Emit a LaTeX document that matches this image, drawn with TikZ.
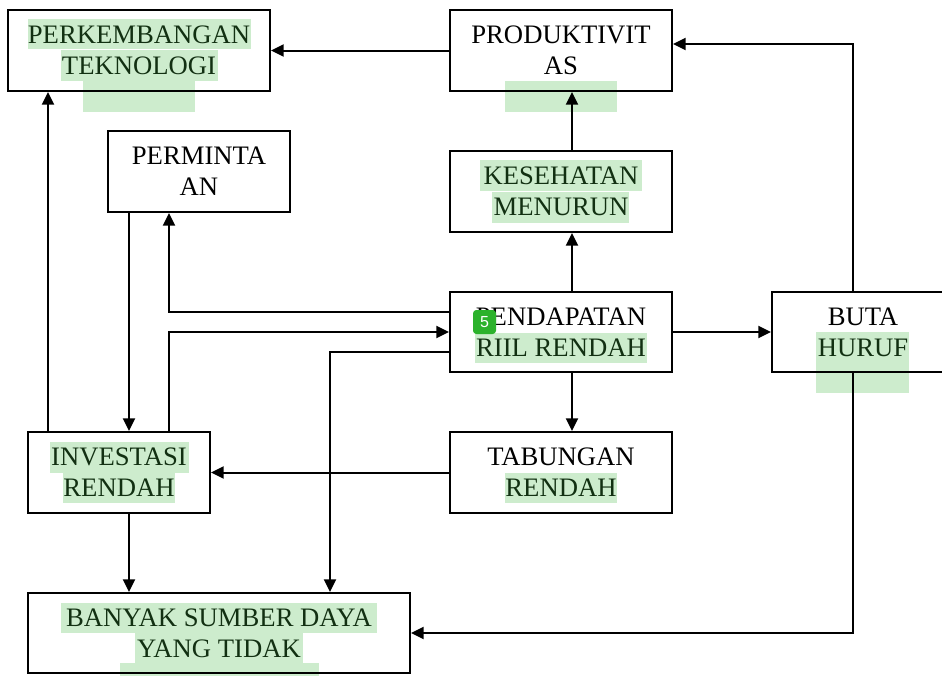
\documentclass[tikz,border=0pt]{standalone}
\usepackage{fontspec}
\setmainfont{Liberation Serif}
\newfontfamily\badgefont{Liberation Sans}
\usetikzlibrary{arrows.meta}
\definecolor{hl}{RGB}{205,236,205}
\definecolor{hltext}{RGB}{18,48,18}
\definecolor{badge}{RGB}{44,178,44}
\begin{document}
\begin{tikzpicture}[x=0.75pt,y=-0.75pt,
  box/.style={draw=black, line width=1.5pt, inner sep=0pt, align=center,
    font=\fontsize{20}{23.25}\selectfont},
  arr/.style={line width=1.5pt, -{Triangle[length=9.5pt,width=9pt]}},
  hlbox/.style={fill=hl}]
\useasboundingbox (0,0) rectangle (942,675);
\clip (0,0) rectangle (942,675);
\fill[white] (0,0) rectangle (942,675);
% highlights (drawn first, under everything)
\fill[hlbox] (28,19) rectangle (251,49);
\fill[hlbox] (61,50) rectangle (218,81);
\fill[hlbox] (83,81) rectangle (195,112);
\fill[hlbox] (505,81) rectangle (617,112);
\fill[hlbox] (480,160) rectangle (642,191);
\fill[hlbox] (492,192) rectangle (629,223);
\fill[hlbox] (475,333) rectangle (647,363);
\fill[hlbox] (816,332) rectangle (909,393);
\fill[hlbox] (50,442) rectangle (189,473);
\fill[hlbox] (63,473) rectangle (175,503);
\fill[hlbox] (505,473) rectangle (617,503);
\fill[hlbox] (61,603) rectangle (377,633);
\fill[hlbox] (135,633) rectangle (303,663);
\fill[hlbox] (120,663) rectangle (319,676);
% boxes
\node[box, minimum width=262*0.75pt, minimum height=81*0.75pt] (tek) at (139,50.5)
  {\textcolor{hltext}{PERKEMBANGAN}\\\textcolor{hltext}{TEKNOLOGI}};
\node[box, minimum width=222*0.75pt, minimum height=81*0.75pt] (prod) at (561,50.5)
  {PRODUKTIVIT\\AS};
\node[box, minimum width=182*0.75pt, minimum height=81*0.75pt] (perm) at (199,171.5)
  {PERMINTA\\AN};
\node[box, minimum width=222*0.75pt, minimum height=81*0.75pt] (kes) at (561,191.5)
  {\textcolor{hltext}{KESEHATAN}\\\textcolor{hltext}{MENURUN}};
\node[box, minimum width=222*0.75pt, minimum height=80*0.75pt] (pend) at (561,332)
  {PENDAPATAN\\\textcolor{hltext}{RIIL RENDAH}};
\node[box, minimum width=182*0.75pt, minimum height=80*0.75pt] (buta) at (863,332)
  {BUTA\\\textcolor{hltext}{HURUF}};
\node[box, minimum width=182*0.75pt, minimum height=81*0.75pt] (inv) at (119,472.5)
  {\textcolor{hltext}{INVESTASI}\\\textcolor{hltext}{RENDAH}};
\node[box, minimum width=222*0.75pt, minimum height=81*0.75pt] (tab) at (561,472.5)
  {TABUNGAN\\\textcolor{hltext}{RENDAH}};
\node[box, minimum width=382*0.75pt, minimum height=80*0.75pt] (ban) at (219,633)
  {\textcolor{hltext}{BANYAK SUMBER DAYA}\\\textcolor{hltext}{YANG TIDAK}};
% connectors
\draw[arr] (prod.west) -- (tek.east);
\draw[arr] ([xshift=-7.5pt]buta.north) |- ([yshift=4.875pt]prod.east);
\draw[arr] ([xshift=8.25pt]kes.north) -- ([xshift=8.25pt]prod.south);
\draw[arr] ([xshift=8.25pt]pend.north) -- ([xshift=8.25pt]kes.south);
\draw[arr] ([xshift=8.25pt]pend.south) -- ([xshift=8.25pt]tab.north);
\draw[arr] (pend.east) -- (buta.west);
\draw[arr] (tab.west) -- (inv.east);
\draw[arr] ([xshift=7.5pt]inv.south) -- ([xshift=7.5pt]inv.south |- ban.north);
\draw[arr] ([yshift=-15pt]pend.west) -| ([xshift=83.25pt]ban.north);
\draw[arr] ([xshift=37.5pt]inv.north) |- (pend.west);
\draw[arr] ([yshift=15pt]pend.west) -| ([xshift=-22.5pt]perm.south);
\draw[arr] ([xshift=-52.5pt]perm.south) -- ([xshift=-52.5pt]perm.south |- inv.north);
\draw[arr] ([xshift=-53.25pt]inv.north) -- ([xshift=-53.25pt]inv.north |- tek.south);
\draw[arr] ([xshift=-7.5pt]buta.south) |- (ban.east);
% annotation badge
\node[fill=badge, rounded corners=2.5pt, minimum width=23*0.75pt, minimum height=24*0.75pt,
  inner sep=0pt, text=white, font=\badgefont\fontsize{12}{12}\selectfont] (badge5) at (484.5,322) {5};
\end{tikzpicture}
\end{document}
